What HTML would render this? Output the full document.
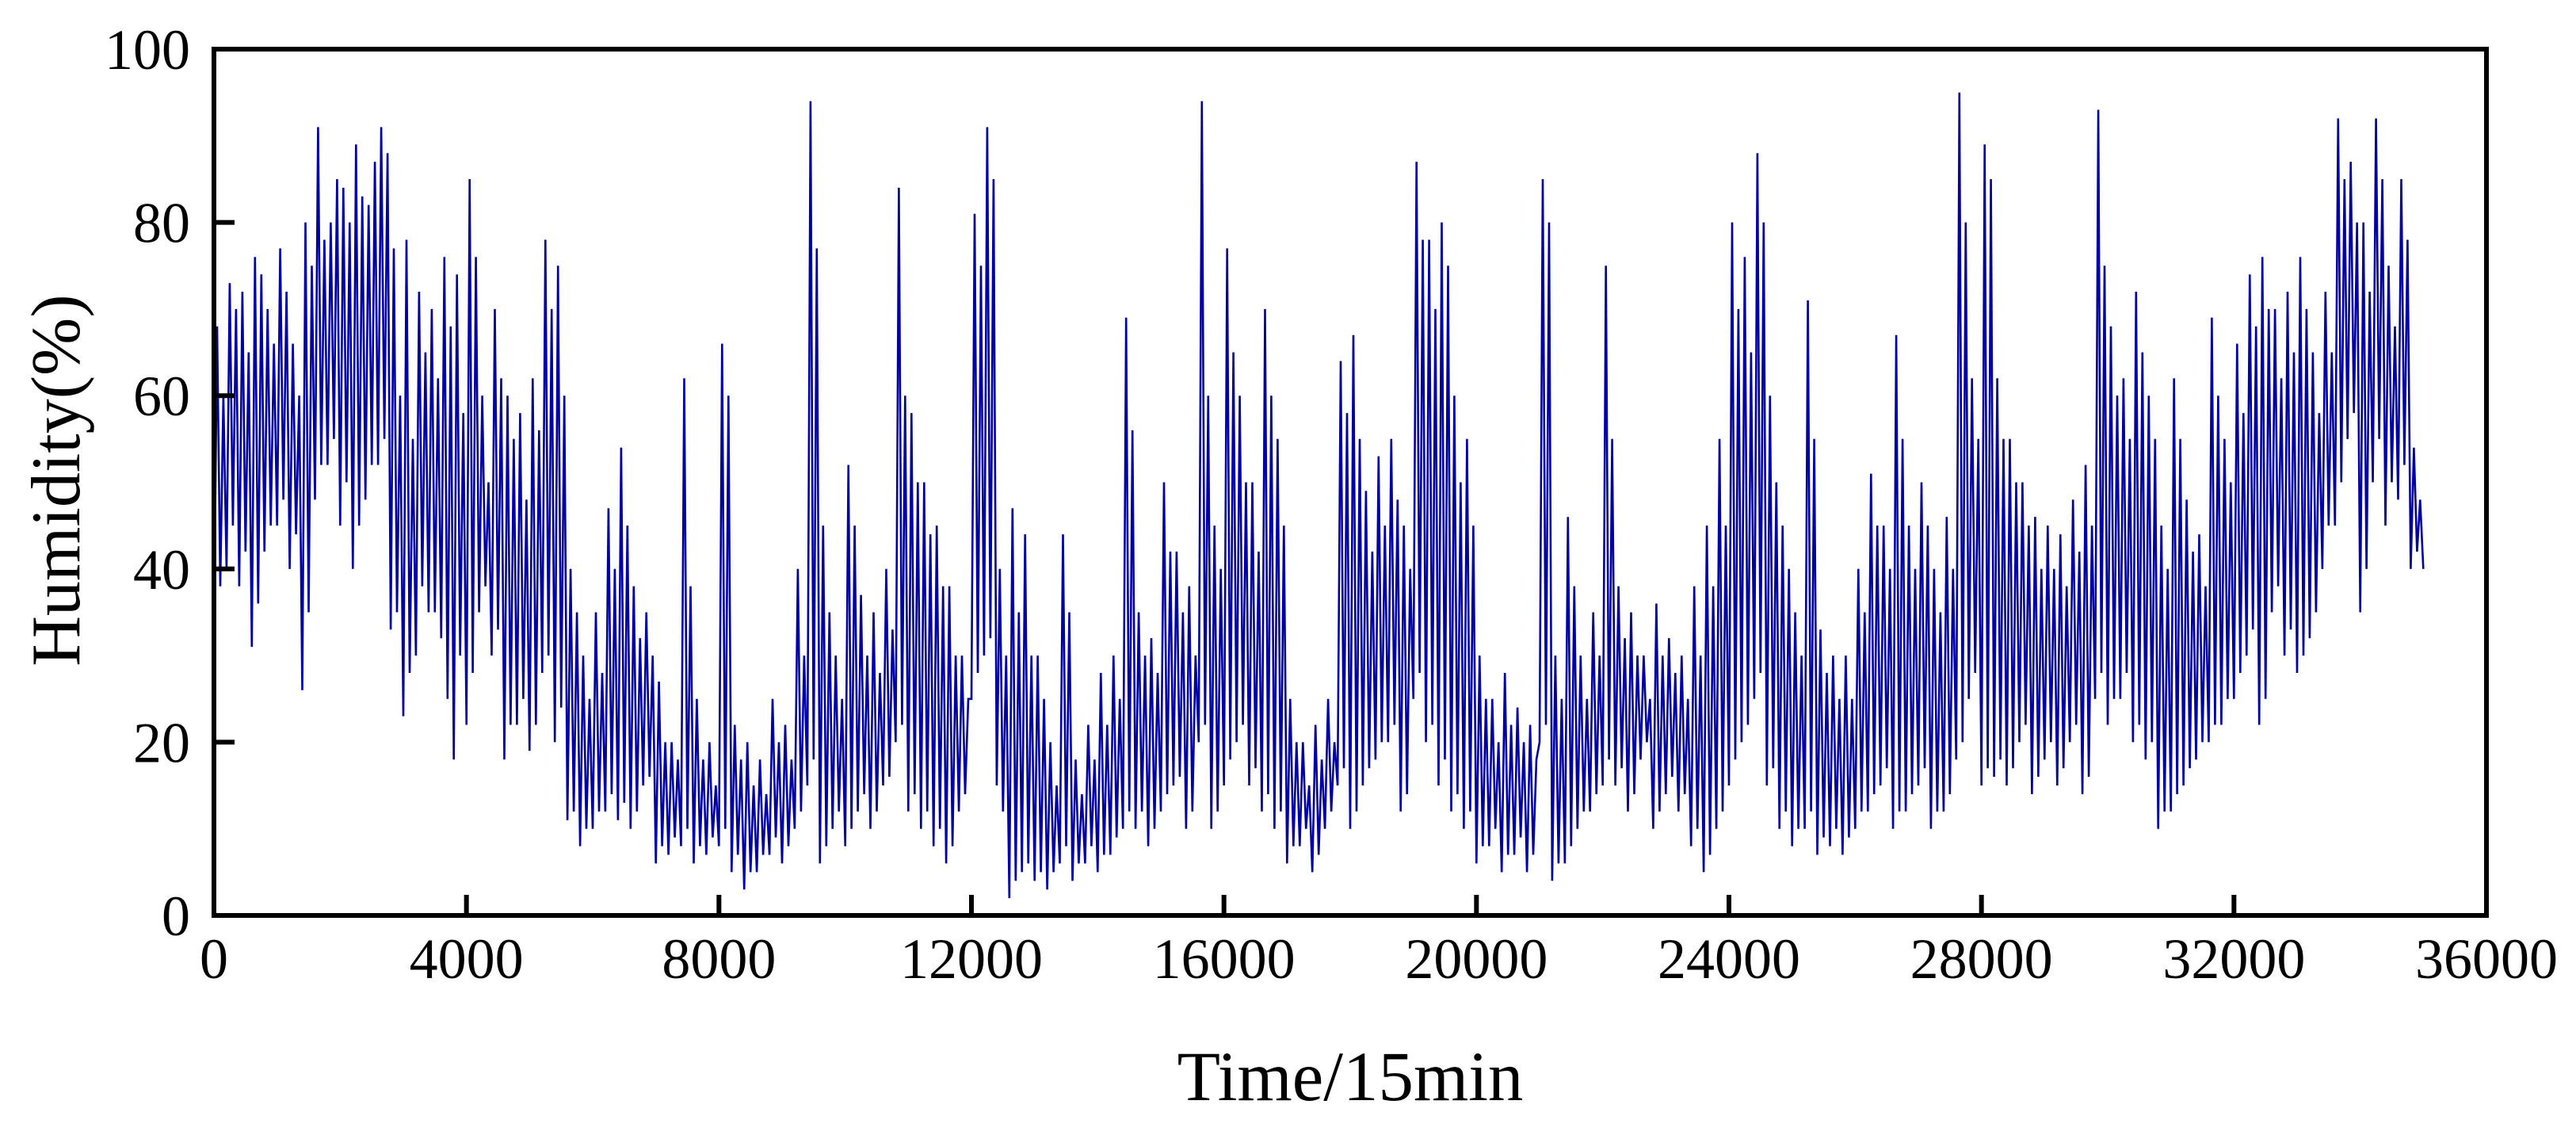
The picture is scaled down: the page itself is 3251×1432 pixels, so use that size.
<!DOCTYPE html>
<html><head><meta charset="utf-8"><style>
html,body{margin:0;padding:0;background:#fff;}
svg{display:block;font-family:"Liberation Serif",serif;}
</style></head><body>
<svg id="chart" width="3251" height="1432" viewBox="0 0 3251 1432" xmlns="http://www.w3.org/2000/svg">
<g id="series"></g>
<g id="axes"></g>
<text x="1704" y="1388" font-size="89" text-anchor="middle">Time/15min</text>
<text x="0" y="0" font-size="88" text-anchor="middle" transform="translate(100,606) rotate(-90)">Humidity(%)</text>
</svg>
<script>
const xTicks = [0,4000,8000,12000,16000,20000,24000,28000,32000,36000];
const yTicks = [0,20,40,60,80,100];
const segmentStep = 200;
const highs = [68,73,72,76,70,77,66,80,91,80,84,89,82,91,77,78,72,70,76,74,85,60,70,60,58,62,78,75,40,30,35,47,54,38,35,27,20,62,25,20,66,22,20,18,25,22,40,94,45,30,52,37,35,40,84,58,50,45,38,30,81,91,40,47,44,30,20,44,18,22,28,30,69,35,32,50,42,38,94,45,77,60,50,70,55,25,20,22,25,64,67,49,53,55,45,87,78,80,60,55,30,25,28,24,22,85,30,46,30,35,75,38,35,30,36,32,30,38,45,55,80,76,88,60,45,35,71,33,30,30,40,51,45,67,45,50,40,46,95,62,89,62,55,50,46,45,44,48,52,93,68,62,72,60,45,62,48,44,69,55,66,74,76,70,72,76,65,72,92,87,80,92,75,85,54];
const lows = [32,40,38,31,42,45,40,26,48,52,45,40,48,52,33,23,30,35,32,18,22,35,30,18,22,19,28,20,11,8,10,12,11,10,15,6,7,8,6,7,8,5,3,5,7,6,10,15,6,10,8,12,10,15,20,12,10,8,6,12,25,30,15,2,5,4,3,6,4,6,5,7,10,10,8,12,15,10,20,10,15,20,15,12,10,6,8,5,10,15,10,15,18,20,12,25,20,15,12,10,6,8,5,7,5,20,4,6,10,12,15,15,12,18,10,14,12,8,5,10,15,20,25,15,10,8,10,7,8,7,10,12,15,10,12,15,10,12,18,25,15,16,15,20,14,18,15,20,14,25,22,25,20,18,10,12,15,18,20,22,25,30,22,35,30,28,32,40,45,55,35,50,45,48,40];
const highsB = [60,70,65,74,66,72,60,75,78,85,80,83,87,88,60,55,65,62,68,58,76,50,62,55,48,56,70,60,35,25,28,40,45,32,30,20,18,38,18,15,60,18,15,14,20,18,30,77,35,25,45,30,28,33,60,50,44,38,30,25,75,85,30,35,30,25,15,35,14,18,22,25,56,30,28,42,35,30,60,40,65,50,42,60,45,20,15,18,20,58,55,42,45,48,40,78,70,75,50,45,25,20,22,20,18,80,25,38,25,30,55,32,30,25,30,28,25,30,38,45,70,65,80,50,40,30,55,28,25,25,35,45,40,55,40,45,35,40,80,55,85,55,50,45,40,40,38,42,45,75,60,55,65,55,40,55,42,38,60,50,58,68,70,62,65,70,58,65,85,80,72,85,68,78,48];
const lowsB = [38,45,42,36,45,48,44,35,52,55,50,45,52,55,35,28,38,35,25,30,28,38,33,22,25,22,30,24,12,10,12,14,13,12,16,8,9,10,8,9,10,7,5,7,9,8,12,18,8,12,10,14,12,16,22,14,12,10,8,14,28,32,12,4,6,5,5,8,6,8,7,9,12,12,10,14,16,12,22,12,18,22,17,14,12,8,10,7,12,17,12,17,20,22,14,28,22,18,14,12,8,10,7,9,7,22,6,8,12,14,18,17,14,20,12,16,14,10,7,12,18,22,28,17,12,10,12,9,10,9,12,14,17,12,14,17,12,14,20,28,17,18,17,22,16,20,17,22,16,28,25,28,22,20,12,14,17,20,22,25,28,33,25,38,33,30,35,45,50,58,40,55,50,52,42];

const L=270,R=3138,T=62,B=1155;
const xs = v => L + (v/36000)*(R-L);
const ys = v => B - (v/100)*(B-T);
const NS="http://www.w3.org/2000/svg";
const series=document.getElementById('series');
const axes=document.getElementById('axes');

let d="";
const n=Math.min(highs.length,lows.length,highsB.length,lowsB.length);
for(let i=0;i<n;i++){
  const t0=i*segmentStep;
  d += (i===0?"M":"L")+xs(t0).toFixed(1)+","+ys(lows[i]).toFixed(1);
  d += "L"+xs(t0+segmentStep*0.25).toFixed(1)+","+ys(highs[i]).toFixed(1);
  d += "L"+xs(t0+segmentStep*0.5).toFixed(1)+","+ys(lowsB[i]).toFixed(1);
  d += "L"+xs(t0+segmentStep*0.75).toFixed(1)+","+ys(highsB[i]).toFixed(1);
}
d += "L"+xs(n*segmentStep).toFixed(1)+","+ys(lows[n-1]).toFixed(1);
const path=document.createElementNS(NS,'path');


path.setAttribute('d',d);
path.setAttribute('fill','none');
path.setAttribute('stroke','#0000A8');
path.setAttribute('stroke-width','2.6');
series.appendChild(path);

const frame=document.createElementNS(NS,'rect');


frame.setAttribute('x',L);frame.setAttribute('y',T);
frame.setAttribute('width',R-L);frame.setAttribute('height',B-T);
frame.setAttribute('fill','none');frame.setAttribute('stroke','#000');frame.setAttribute('stroke-width','6');
axes.appendChild(frame);

xTicks.forEach(v=>{
  const x=xs(v);
  const tk=document.createElementNS(NS,'line');
  
  
  tk.setAttribute('x1',x);tk.setAttribute('x2',x);tk.setAttribute('y1',B);tk.setAttribute('y2',B-26);
  tk.setAttribute('stroke','#000');tk.setAttribute('stroke-width','6');
  axes.appendChild(tk);
  const tx=document.createElementNS(NS,'text');
  
  
  tx.setAttribute('x',x);tx.setAttribute('y',1234);
  tx.setAttribute('font-size','72');tx.setAttribute('text-anchor','middle');
  tx.textContent=v;
  axes.appendChild(tx);
});
yTicks.forEach(v=>{
  const y=ys(v);
  const tk=document.createElementNS(NS,'line');
  
  
  tk.setAttribute('x1',L);tk.setAttribute('x2',L+26);tk.setAttribute('y1',y);tk.setAttribute('y2',y);
  tk.setAttribute('stroke','#000');tk.setAttribute('stroke-width','6');
  axes.appendChild(tk);
  const tx=document.createElementNS(NS,'text');
  
  
  tx.setAttribute('x',240);tx.setAttribute('y',y+25);
  tx.setAttribute('font-size','72');tx.setAttribute('text-anchor','end');
  tx.textContent=v;
  axes.appendChild(tx);
});
</script>
</body></html>
